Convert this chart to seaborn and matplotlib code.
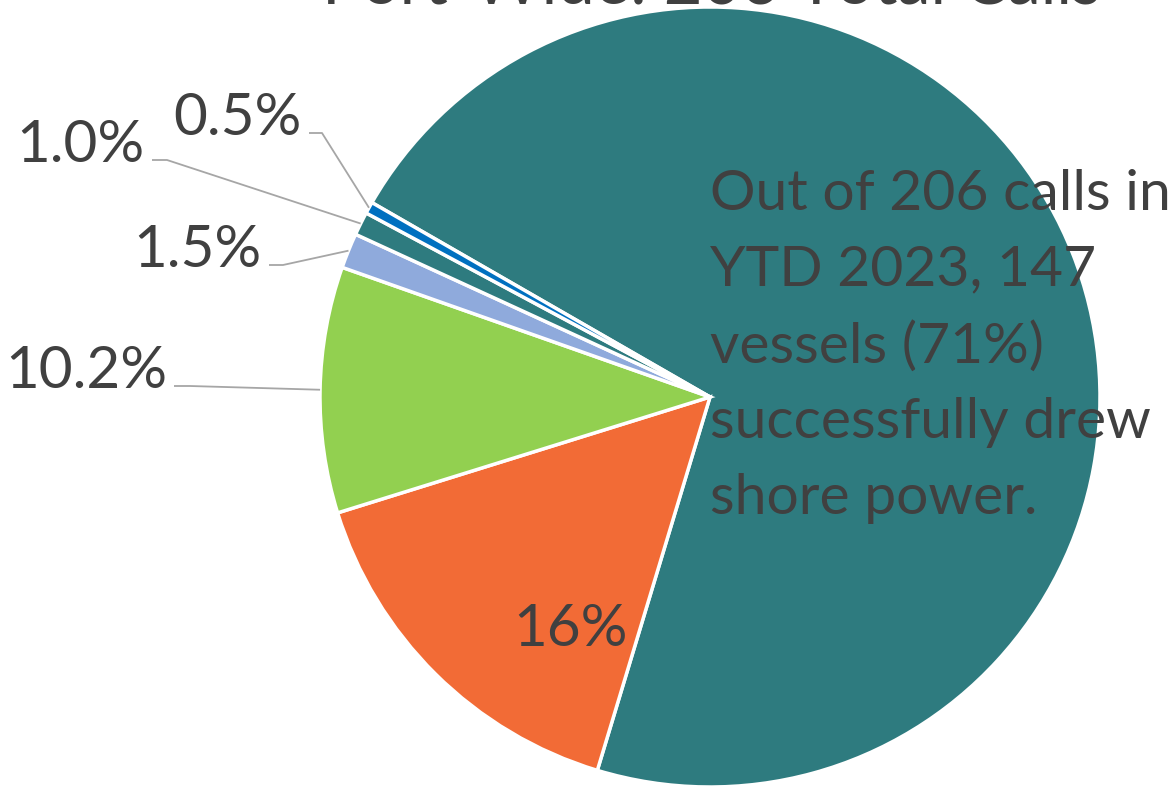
import matplotlib
matplotlib.use("Agg")
import matplotlib.pyplot as plt
import numpy as np
import seaborn as sns

# calls by outcome, YTD 2023 (206 total)
categories = ["Drew shore power", "Outcome B", "Outcome C", "Outcome D", "Outcome E", "Outcome F"]
calls = [147, 32, 21, 3, 2, 1]
pct_labels = ["", "16%", "10.2%", "1.5%", "1.0%", "0.5%"]
colors = ["#2E7B7F", "#F26B36", "#92D050", "#8FAADC", "#2E7B7F", "#0070C0"]

title = "Port-Wide: 206 Total Calls"
note = "Out of 206 calls in\nYTD 2023, 147\nvessels (71%)\nsuccessfully drew\nshore power."

sns.set_theme(style="white")
plt.rcParams["font.family"] = ["Lato", "DejaVu Sans"]

W, H = 1175, 790
CX, CY, R = 710, 397, 390  # pie centre / radius in pixels


def px(x, y):
    # pixel position -> data coords (pie radius = 1)
    return (x - CX) / R, (CY - y) / R


fig = plt.figure(figsize=(W / 100, H / 100), dpi=100)
ax = fig.add_axes([0, 0, 1, 1])

wedges, _ = ax.pie(calls, colors=colors, startangle=150.1, counterclock=False,
                   radius=1, center=(0, 0), frame=True,
                   wedgeprops=dict(edgecolor="white", linewidth=2.5))
ax.set_xlim(px(0, 0)[0], px(W, 0)[0])
ax.set_ylim(px(0, H)[1], px(0, 0)[1])
ax.set_aspect("equal")
ax.axis("off")

text_col = "#404040"
line_col = "#A6A6A6"

# outside labels: (text right x, baseline y, elbow x) in pixels
outside = {2: (167, 388, 190), 3: (262, 267, 283), 4: (145, 162, 167), 5: (302, 135, 322)}
for i, (tx, ty, ex) in outside.items():
    w = wedges[i]
    mid = np.deg2rad((w.theta1 + w.theta2) / 2)
    wx, wy = np.cos(mid), np.sin(mid)
    x0, y0 = px(tx + 7, ty - 2)
    x1, y1 = px(ex, ty - 2)
    ax.plot([x0, x1, wx], [y0, y1, wy], color=line_col, lw=1.3, solid_capstyle="butt")
    lx, ly = px(tx, ty)
    ax.text(lx, ly, pct_labels[i], ha="right", va="baseline", fontsize=42, color=text_col)

# inside label for orange slice
lx, ly = px(571, 630)
ax.text(lx, ly, pct_labels[1], ha="center", va="center", fontsize=42, color=text_col)

# annotation over the main slice (last line baseline)
nx, ny = px(710, 514)
ax.text(nx, ny, note, ha="left", va="baseline", fontsize=41, color=text_col, linespacing=1.6)

# title, mostly cut off at top edge as in the source
tx, ty = px(711, 4)
ax.text(tx, ty, title, ha="center", va="baseline", fontsize=48, color=text_col)

fig.savefig("out.png", dpi=100)
